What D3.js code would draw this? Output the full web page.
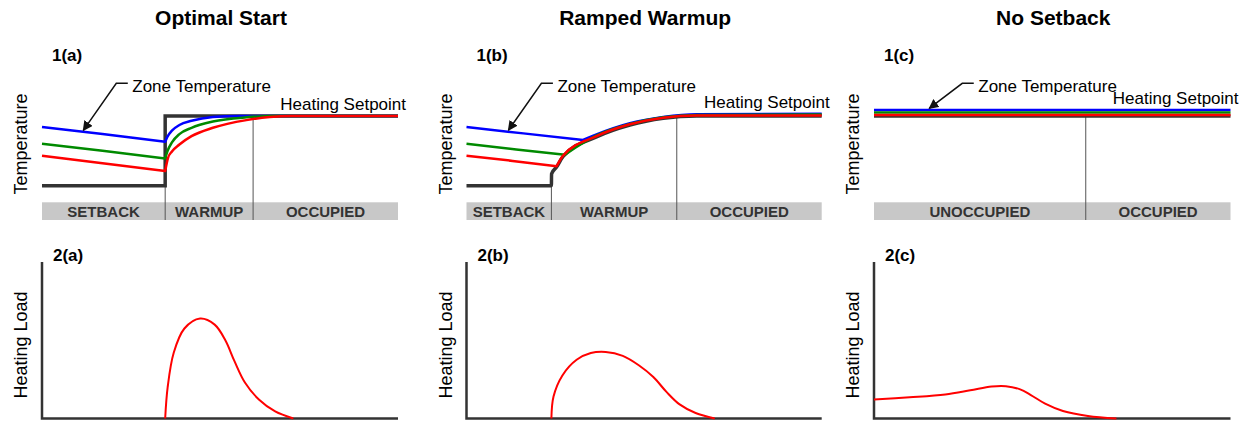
<!DOCTYPE html>
<html>
<head>
<meta charset="utf-8">
<script src="https://cdn.jsdelivr.net/npm/d3@7"></script>
<style>
  body { margin: 0; background: #fff; }
  svg { display: block; font-family: Arial, "Liberation Sans", sans-serif; }
</style>
</head>
<body>
<div id="chart"></div>
<script>
// time axis is % of the plotted period, temperature in degF, load in % of max
var timeDomain = [0, 100];
var tempDomain = [58, 72];
var loadDomain = [0, 100];

// ---- 1(a) / 2(a) optimal start ----
var setpointA = [[0, 60], [34.6, 60], [34.6, 70], [100, 70]];
var blueA = [[0, 68.4], [17, 67.4], [34.6, 66.3], [35.2, 67.0], [36.5, 67.9], [38.6, 68.7], [42, 69.3], [48, 69.85], [55, 70], [100, 70]];
var greenA = [[0, 66.0], [17, 65.0], [34.6, 63.9], [35.2, 64.9], [36.5, 66.2], [38.6, 67.4], [42, 68.3], [48, 69.2], [57.4, 69.8], [65, 70], [100, 70]];
var redA = [[0, 64.3], [17, 63.2], [34.6, 62.1], [35.4, 64.0], [36.5, 64.9], [38.6, 65.9], [42, 67.1], [48, 68.3], [57.4, 69.4], [64, 69.85], [70, 70], [100, 70]];
var phasesA = [["SETBACK", 0, 34.6], ["WARMUP", 34.6, 59.3], ["OCCUPIED", 59.3, 100]];
var loadA = [[34.6, 0], [35.3, 20], [37, 42], [40, 57.5], [44.4, 63.9], [48.5, 60], [51.5, 50], [54, 37], [57, 23], [61, 12], [65.5, 4.5], [70.6, 0]];

// ---- 1(b) / 2(b) ramped warmup ----
var setpointB = [[0, 60], [23.9, 60], [23.95, 61.7], [25.4, 62.7], [27.2, 64.2], [36.6, 67.0], [46, 68.7], [55.4, 69.66], [64.8, 70], [100, 70]];
var blueB = [[0, 68.4], [16, 67.5], [32.8, 66.55], [36.6, 67.35], [46, 68.95], [55.4, 69.85], [64.8, 70.25], [100, 70.3]];
var greenB = [[0, 66.0], [14, 65.2], [27.7, 64.45], [36.6, 67.2], [46, 68.85], [55.4, 69.8], [64.8, 70.15], [100, 70.2]];
var redB = [[0, 64.3], [13, 63.55], [25.4, 62.8], [27.2, 64.3], [36.6, 67.1], [46, 68.8], [55.4, 69.75], [64.8, 70.05], [100, 70.05]];
var phasesB = [["SETBACK", 0, 23.9], ["WARMUP", 23.9, 59.2], ["OCCUPIED", 59.2, 100]];
var loadB = [[23.9, 0], [24.5, 14], [27, 27.5], [31, 37.5], [35, 41.8], [39.2, 42.5], [44, 40], [48.5, 34], [52.6, 26.5], [56.3, 17], [60, 9], [64.5, 3.5], [69.9, 0]];

// ---- 1(c) / 2(c) no setback ----
var setpointC = [[0, 70], [100, 70]];
var blueC = [[0, 70.86], [100, 70.86]];
var greenC = [[0, 70.5], [100, 70.5]];
var redC = [[0, 70.14], [100, 70.14]];
var phasesC = [["UNOCCUPIED", 0, 59.4], ["OCCUPIED", 59.4, 100]];
var loadC = [[0, 12.2], [10, 13.6], [20, 15.4], [27, 18], [33, 20.4], [37, 20.6], [41, 18.6], [44, 15], [48, 9.5], [53, 4.8], [60, 1.6], [68, 0]];

var titles = ["Optimal Start", "Ramped Warmup", "No Setback"];
var tags = ["a", "b", "c"];
var arrowAt = [11.6, 11.8, 15.5]; // where the "Zone Temperature" arrow touches the blue line

var panels = [
  { x0: 42, x1: 398, setpoint: setpointA, zones: [blueA, greenA, redA], phases: phasesA, load: loadA },
  { x0: 466.5, x1: 821.7, setpoint: setpointB, zones: [blueB, greenB, redB], phases: phasesB, load: loadB },
  { x0: 874, x1: 1230.5, setpoint: setpointC, zones: [blueC, greenC, redC], phases: phasesC, load: loadC }
];

var zoneColours = ["#0000ff", "#008a00", "#ff0000"];

var svg = d3.select("#chart").append("svg")
  .attr("width", 1247)
  .attr("height", 421);

svg.append("defs").append("marker")
  .attr("id", "arrow")
  .attr("viewBox", "0 0 10 10")
  .attr("refX", 9).attr("refY", 5)
  .attr("markerWidth", 10).attr("markerHeight", 10)
  .attr("markerUnits", "userSpaceOnUse")
  .attr("orient", "auto")
  .append("path")
  .attr("d", "M0,0L10,5L0,10Z")
  .attr("fill", "#111");

var yTemp = d3.scaleLinear().domain(tempDomain).range([199.6, 102]);
var yLoad = d3.scaleLinear().domain(loadDomain).range([418.5, 262]);
var bandTop = 202.3, bandBottom = 220;

panels.forEach(function(p, i) {
  var x = d3.scaleLinear().domain(timeDomain).range([p.x0, p.x1]);
  var g = svg.append("g");

  var tempLinear = d3.line()
    .x(function(d) { return x(d[0]); })
    .y(function(d) { return yTemp(d[1]); });
  var tempSmooth = d3.line()
    .x(function(d) { return x(d[0]); })
    .y(function(d) { return yTemp(d[1]); })
    .curve(d3.curveMonotoneX);
  var loadLine = d3.line()
    .x(function(d) { return x(d[0]); })
    .y(function(d) { return yLoad(d[1]); })
    .curve(d3.curveCatmullRom.alpha(0.5));

  // column title
  g.append("text")
    .attr("x", (p.x0 + p.x1) / 2 + 1)
    .attr("y", 25)
    .attr("text-anchor", "middle")
    .style("font-size", "21px").style("font-weight", "bold")
    .text(titles[i]);

  // ---------- top: temperature ----------
  g.append("text")
    .attr("x", p.x0 + 10).attr("y", 61)
    .style("font-size", "17px").style("font-weight", "bold")
    .text("1(" + tags[i] + ")");

  g.append("text")
    .attr("transform", "translate(" + (p.x0 - 15) + "," + 144 + ") rotate(-90)")
    .attr("text-anchor", "middle")
    .style("font-size", "18px")
    .text("Temperature");

  // occupancy band
  g.append("rect")
    .attr("x", p.x0).attr("y", bandTop)
    .attr("width", p.x1 - p.x0).attr("height", bandBottom - bandTop)
    .attr("fill", "#c8c8c8");
  g.selectAll(".phase")
    .data(p.phases)
    .enter().append("text")
    .attr("x", function(d) { return (x(d[1]) + x(d[2])) / 2; })
    .attr("y", 216.7)
    .attr("text-anchor", "middle")
    .style("font-size", "15px").style("font-weight", "bold")
    .style("fill", "#333")
    .text(function(d) { return d[0]; });

  // dividers between phases
  p.phases.slice(1).forEach(function(d) {
    var top = d[0] === "WARMUP" ? yTemp(60) : yTemp(70);
    g.append("line")
      .attr("x1", x(d[1])).attr("x2", x(d[1]))
      .attr("y1", top).attr("y2", bandBottom)
      .attr("stroke", "#555").attr("stroke-width", 1);
  });

  g.append("path")
    .attr("d", (i === 0 ? tempLinear : tempSmooth)(p.setpoint))
    .attr("fill", "none")
    .attr("stroke", "#333").attr("stroke-width", 3.5);

  // each zone line: straight drift during setback, smooth recovery after its lowest point
  p.zones.forEach(function(s, k) {
    var lo = d3.minIndex(s, function(d) { return d[1]; });
    if (s[lo][1] === s[0][1]) lo = s.length - 1;
    g.append("path")
      .attr("d", tempLinear(s.slice(0, lo + 1)) + (lo < s.length - 1 ? tempSmooth(s.slice(lo)).replace(/^M/, "L") : ""))
      .attr("fill", "none")
      .attr("stroke-linejoin", "round")
      .attr("stroke", zoneColours[k]).attr("stroke-width", 2.5);
  });

  // annotations
  var blue = p.zones[0];
  var tipX = x(arrowAt[i]);
  var tipY = yTemp(d3.scaleLinear().domain(blue.map(function(d) { return d[0]; })).range(blue.map(function(d) { return d[1]; }))(arrowAt[i])) - 1.5;
  var textX = tipX + 49;
  g.append("path")
    .attr("d", "M" + (textX - 4.5) + ",83.3H" + (textX - 16) + "L" + tipX + "," + tipY)
    .attr("fill", "none")
    .attr("stroke", "#111").attr("stroke-width", 1.5)
    .attr("marker-end", "url(#arrow)");
  g.append("text")
    .attr("x", textX).attr("y", 91.7)
    .style("font-size", "17px")
    .text("Zone Temperature");

  g.append("text")
    .attr("x", p.x1 + 8)
    .attr("y", yTemp(blue[blue.length - 1][1]) - 6)
    .attr("text-anchor", "end")
    .style("font-size", "17px")
    .text("Heating Setpoint");

  // ---------- bottom: heating load ----------
  g.append("text")
    .attr("x", p.x0 + 11).attr("y", 261)
    .style("font-size", "17px").style("font-weight", "bold")
    .text("2(" + tags[i] + ")");

  g.append("text")
    .attr("transform", "translate(" + (p.x0 - 15) + "," + 345 + ") rotate(-90)")
    .attr("text-anchor", "middle")
    .style("font-size", "18px")
    .text("Heating Load");

  g.append("path")
    .attr("d", "M" + p.x0 + "," + yLoad.range()[1] + "V" + yLoad.range()[0] + "H" + p.x1)
    .attr("fill", "none")
    .attr("stroke", "#333").attr("stroke-width", 2.5);

  g.append("path")
    .attr("d", loadLine(p.load))
    .attr("fill", "none")
    .attr("stroke", "#ff0000").attr("stroke-width", 2);
});
</script>
</body>
</html>
